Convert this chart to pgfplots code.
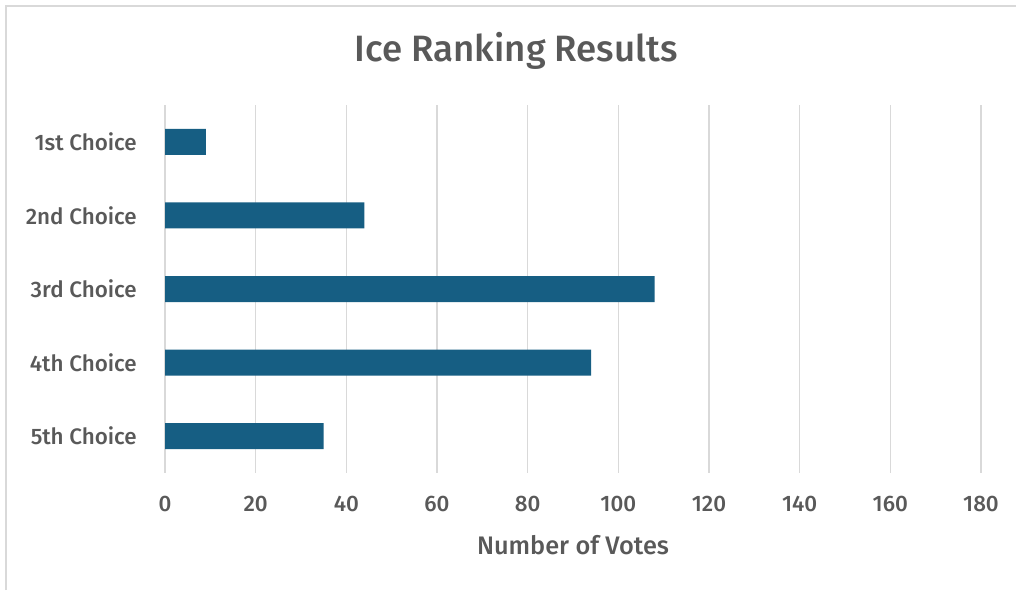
\documentclass[border=0pt]{standalone}
\usepackage{pgfplots}
\pgfplotsset{compat=1.18}
\usepackage{fontspec}
\setmainfont{Fira Sans}[UprightFont={* Medium}]
\definecolor{barc}{HTML}{165E83}
\definecolor{txt}{HTML}{595959}
\definecolor{gridc}{HTML}{D9D9D9}
\begin{document}
\begin{tikzpicture}
\useasboundingbox (0pt,0pt) rectangle (762pt,442.5pt);
\draw[gridc, line width=1.5pt] (4.5pt,0pt) -- (4.5pt,438pt) -- (762pt,438pt);
\node[txt, font=\fontsize{27.5}{30}\selectfont] at (387pt,404pt) {Ice Ranking Results};
\begin{axis}[
  at={(123.75pt,87.75pt)}, anchor=south west,
  scale only axis, width=612pt, height=276pt,
  xbar, bar width=19.5pt,
  xmin=0, xmax=180, xtick={0,20,...,180},
  ymin=-0.5, ymax=4.5, y dir=reverse,
  ytick={0,1,2,3,4},
  yticklabels={1st Choice,2nd Choice,3rd Choice,4th Choice,5th Choice},
  axis line style={draw=none},
  major tick length=0pt,
  xmajorgrids, grid style={gridc, line width=1.2pt},
  ymajorgrids=false,
  tick label style={txt, font=\fontsize{16.8}{18}\selectfont},
  /pgf/number format/assume math mode=true,
  yticklabel style={inner sep=0pt, anchor=east, xshift=-21pt},
  xticklabel style={inner sep=0pt, anchor=north, yshift=-17pt},
  xlabel={Number of Votes},
  xlabel style={txt, font=\fontsize{19}{21}\selectfont, at={(axis description cs:0.5,0)}, anchor=center, yshift=-54pt},
]
\addplot[fill=barc, draw=none] coordinates {(9,0) (44,1) (108,2) (94,3) (35,4)};
\end{axis}
\end{tikzpicture}
\end{document}
